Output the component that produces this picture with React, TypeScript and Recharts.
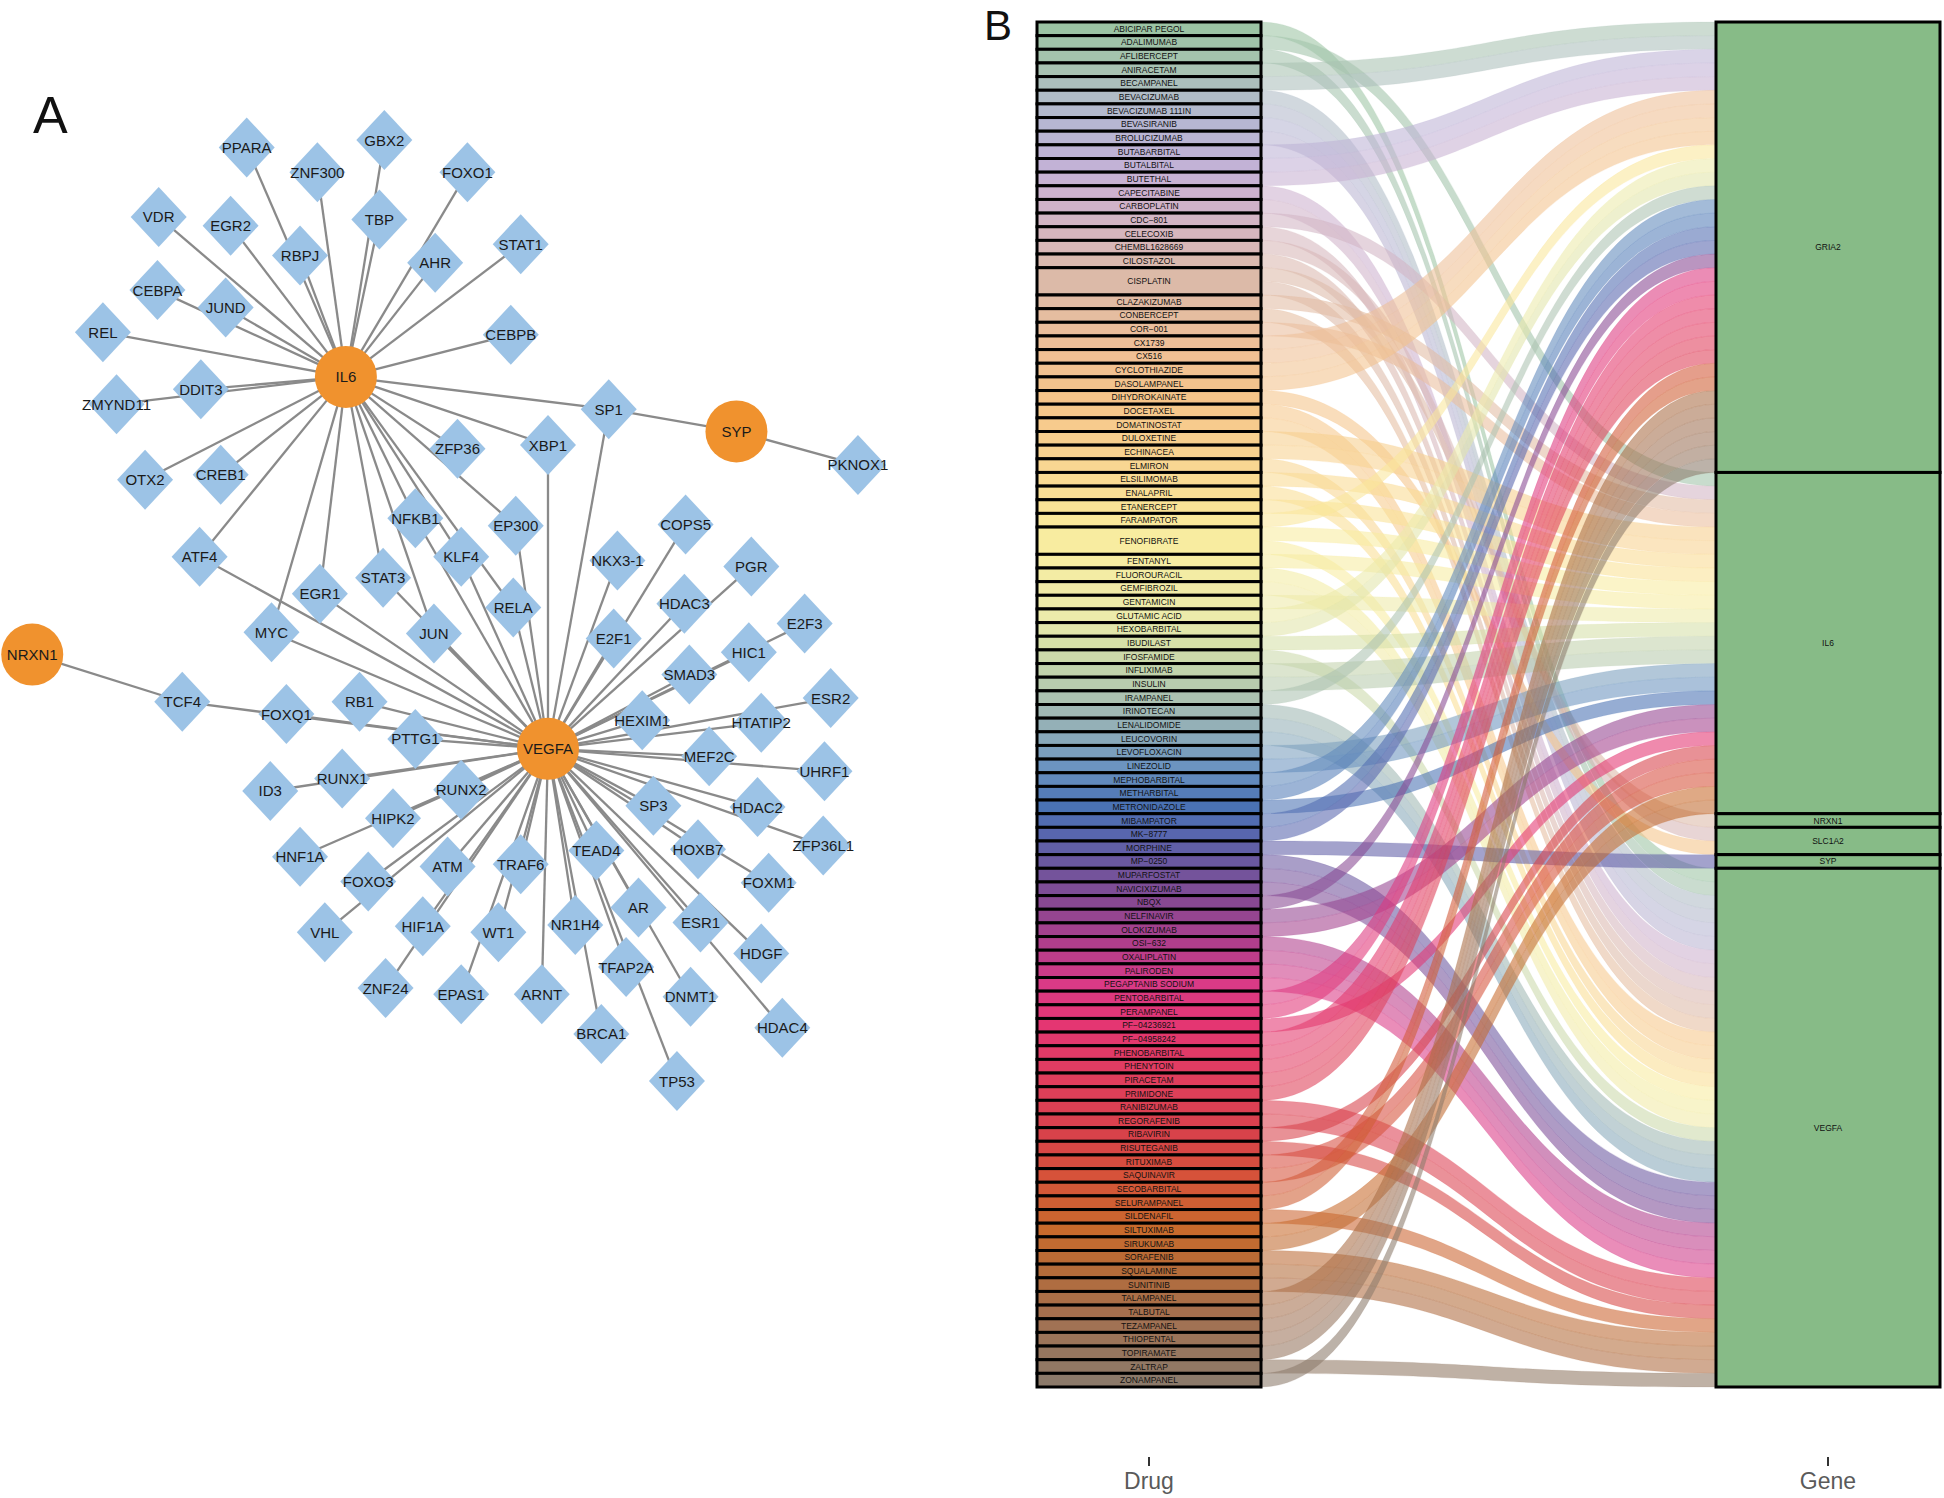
import React from 'react';
import { ScatterChart, Scatter, XAxis, YAxis, Sankey } from 'recharts';

// ---------------- Panel A: network (layout coordinates) ----------------
const hubNodes = [
  { name: 'IL6', x: 279, y: 304 },
  { name: 'VEGFA', x: 442, y: 604 },
  { name: 'SYP', x: 594, y: 348 },
  { name: 'NRXN1', x: 26, y: 528 },
];

const targetNodes = [
  { name: 'PPARA', x: 199, y: 119 }, { name: 'ZNF300', x: 256, y: 139 }, { name: 'GBX2', x: 310, y: 113 },
  { name: 'FOXO1', x: 377, y: 139 }, { name: 'VDR', x: 128, y: 175 }, { name: 'EGR2', x: 186, y: 182 },
  { name: 'TBP', x: 306, y: 177 }, { name: 'RBPJ', x: 242, y: 206 }, { name: 'STAT1', x: 420, y: 197 },
  { name: 'AHR', x: 351, y: 212 }, { name: 'CEBPA', x: 127, y: 234 }, { name: 'JUND', x: 182, y: 248 },
  { name: 'REL', x: 83, y: 268 }, { name: 'CEBPB', x: 412, y: 270 }, { name: 'ZMYND11', x: 94, y: 326 },
  { name: 'DDIT3', x: 162, y: 314 }, { name: 'SP1', x: 491, y: 330 }, { name: 'XBP1', x: 442, y: 359 },
  { name: 'ZFP36', x: 369, y: 362 }, { name: 'PKNOX1', x: 692, y: 375 }, { name: 'OTX2', x: 117, y: 387 },
  { name: 'CREB1', x: 178, y: 383 }, { name: 'NFKB1', x: 335, y: 418 }, { name: 'EP300', x: 416, y: 424 },
  { name: 'COPS5', x: 553, y: 423 }, { name: 'ATF4', x: 161, y: 449 }, { name: 'KLF4', x: 372, y: 449 },
  { name: 'NKX3-1', x: 498, y: 452 }, { name: 'PGR', x: 606, y: 457 }, { name: 'STAT3', x: 309, y: 466 },
  { name: 'EGR1', x: 258, y: 479 }, { name: 'RELA', x: 414, y: 490 }, { name: 'HDAC3', x: 552, y: 487 },
  { name: 'E2F3', x: 649, y: 503 }, { name: 'MYC', x: 219, y: 510 }, { name: 'JUN', x: 350, y: 511 },
  { name: 'E2F1', x: 495, y: 515 }, { name: 'HIC1', x: 604, y: 526 }, { name: 'SMAD3', x: 556, y: 544 },
  { name: 'TCF4', x: 147, y: 566 }, { name: 'FOXQ1', x: 231, y: 576 }, { name: 'RB1', x: 290, y: 566 },
  { name: 'HEXIM1', x: 518, y: 581 }, { name: 'HTATIP2', x: 614, y: 583 }, { name: 'ESR2', x: 670, y: 563 },
  { name: 'PTTG1', x: 335, y: 596 }, { name: 'MEF2C', x: 572, y: 610 }, { name: 'ID3', x: 218, y: 638 },
  { name: 'RUNX1', x: 276, y: 628 }, { name: 'RUNX2', x: 372, y: 637 }, { name: 'UHRF1', x: 665, y: 622 },
  { name: 'SP3', x: 527, y: 650 }, { name: 'HDAC2', x: 611, y: 651 }, { name: 'HIPK2', x: 317, y: 660 },
  { name: 'HNF1A', x: 242, y: 691 }, { name: 'TEAD4', x: 481, y: 686 }, { name: 'HOXB7', x: 563, y: 685 },
  { name: 'ZFP36L1', x: 664, y: 682 }, { name: 'ATM', x: 361, y: 699 }, { name: 'TRAF6', x: 420, y: 697 },
  { name: 'FOXO3', x: 297, y: 711 }, { name: 'FOXM1', x: 620, y: 712 }, { name: 'AR', x: 515, y: 732 },
  { name: 'VHL', x: 262, y: 752 }, { name: 'HIF1A', x: 341, y: 747 }, { name: 'WT1', x: 402, y: 752 },
  { name: 'NR1H4', x: 464, y: 746 }, { name: 'ESR1', x: 565, y: 744 }, { name: 'HDGF', x: 614, y: 769 },
  { name: 'ZNF24', x: 311, y: 797 }, { name: 'EPAS1', x: 372, y: 802 }, { name: 'ARNT', x: 437, y: 802 },
  { name: 'TFAP2A', x: 505, y: 780 }, { name: 'DNMT1', x: 557, y: 804 }, { name: 'HDAC4', x: 631, y: 829 },
  { name: 'BRCA1', x: 485, y: 834 }, { name: 'TP53', x: 546, y: 872 },
];

const il6Partners = ['PPARA', 'ZNF300', 'GBX2', 'FOXO1', 'VDR', 'EGR2', 'TBP', 'RBPJ', 'STAT1', 'AHR', 'CEBPA',
  'JUND', 'REL', 'CEBPB', 'ZMYND11', 'DDIT3', 'SP1', 'XBP1', 'ZFP36', 'OTX2', 'CREB1', 'NFKB1', 'EP300', 'ATF4',
  'KLF4', 'STAT3', 'EGR1', 'RELA', 'MYC', 'JUN'];
const vegfaPartners = ['ATF4', 'MYC', 'EGR1', 'STAT3', 'JUN', 'NFKB1', 'KLF4', 'RELA', 'EP300', 'XBP1', 'SP1',
  'NKX3-1', 'COPS5', 'PGR', 'HDAC3', 'E2F1', 'E2F3', 'HIC1', 'SMAD3', 'TCF4', 'FOXQ1', 'RB1', 'PTTG1', 'HEXIM1',
  'HTATIP2', 'ESR2', 'MEF2C', 'UHRF1', 'ID3', 'RUNX1', 'RUNX2', 'SP3', 'HDAC2', 'ZFP36L1', 'HIPK2', 'HNF1A',
  'TEAD4', 'HOXB7', 'ATM', 'TRAF6', 'FOXO3', 'FOXM1', 'AR', 'VHL', 'HIF1A', 'WT1', 'NR1H4', 'ESR1', 'HDGF',
  'ZNF24', 'EPAS1', 'ARNT', 'TFAP2A', 'DNMT1', 'HDAC4', 'BRCA1', 'TP53'];
const sypPartners = ['SP1', 'PKNOX1'];
const nrxn1Partners = ['TCF4'];

// ---------------- Panel B: drug–gene alluvial ----------------
const drugs = ['ABICIPAR PEGOL', 'ADALIMUMAB', 'AFLIBERCEPT', 'ANIRACETAM', 'BECAMPANEL', 'BEVACIZUMAB',
  'BEVACIZUMAB 111IN', 'BEVASIRANIB', 'BROLUCIZUMAB', 'BUTABARBITAL', 'BUTALBITAL', 'BUTETHAL', 'CAPECITABINE',
  'CARBOPLATIN', 'CDC−801', 'CELECOXIB', 'CHEMBL1628669', 'CILOSTAZOL', 'CISPLATIN', 'CLAZAKIZUMAB', 'CONBERCEPT',
  'COR−001', 'CX1739', 'CX516', 'CYCLOTHIAZIDE', 'DASOLAMPANEL', 'DIHYDROKAINATE', 'DOCETAXEL', 'DOMATINOSTAT',
  'DULOXETINE', 'ECHINACEA', 'ELMIRON', 'ELSILIMOMAB', 'ENALAPRIL', 'ETANERCEPT', 'FARAMPATOR', 'FENOFIBRATE',
  'FENTANYL', 'FLUOROURACIL', 'GEMFIBROZIL', 'GENTAMICIN', 'GLUTAMIC ACID', 'HEXOBARBITAL', 'IBUDILAST',
  'IFOSFAMIDE', 'INFLIXIMAB', 'INSULIN', 'IRAMPANEL', 'IRINOTECAN', 'LENALIDOMIDE', 'LEUCOVORIN', 'LEVOFLOXACIN',
  'LINEZOLID', 'MEPHOBARBITAL', 'METHARBITAL', 'METRONIDAZOLE', 'MIBAMPATOR', 'MK−8777', 'MORPHINE', 'MP−0250',
  'MUPARFOSTAT', 'NAVICIXIZUMAB', 'NBQX', 'NELFINAVIR', 'OLOKIZUMAB', 'OSI−632', 'OXALIPLATIN', 'PALIRODEN',
  'PEGAPTANIB SODIUM', 'PENTOBARBITAL', 'PERAMPANEL', 'PF−04236921', 'PF−04958242', 'PHENOBARBITAL', 'PHENYTOIN',
  'PIRACETAM', 'PRIMIDONE', 'RANIBIZUMAB', 'REGORAFENIB', 'RIBAVIRIN', 'RISUTEGANIB', 'RITUXIMAB', 'SAQUINAVIR',
  'SECOBARBITAL', 'SELURAMPANEL', 'SILDENAFIL', 'SILTUXIMAB', 'SIRUKUMAB', 'SORAFENIB', 'SQUALAMINE', 'SUNITINIB',
  'TALAMPANEL', 'TALBUTAL', 'TEZAMPANEL', 'THIOPENTAL', 'TOPIRAMATE', 'ZALTRAP', 'ZONAMPANEL'];

const drugTargets = ['VEGFA', 'IL6', 'VEGFA', 'GRIA2', 'GRIA2', 'VEGFA',
  'VEGFA', 'VEGFA', 'VEGFA', 'GRIA2', 'GRIA2', 'GRIA2', 'VEGFA',
  'VEGFA', 'IL6', 'VEGFA', 'SLC1A2', 'VEGFA', 'NRXN1|VEGFA', 'IL6', 'VEGFA',
  'IL6', 'GRIA2', 'GRIA2', 'GRIA2', 'GRIA2', 'SLC1A2', 'VEGFA', 'VEGFA',
  'IL6', 'IL6', 'VEGFA', 'IL6', 'VEGFA', 'IL6', 'GRIA2', 'IL6|VEGFA',
  'IL6', 'VEGFA', 'VEGFA', 'IL6', 'GRIA2', 'GRIA2', 'IL6',
  'VEGFA', 'IL6', 'IL6', 'GRIA2', 'VEGFA', 'VEGFA', 'VEGFA', 'IL6',
  'IL6', 'GRIA2', 'GRIA2', 'IL6', 'GRIA2', 'GRIA2', 'SYP', 'VEGFA',
  'VEGFA', 'VEGFA', 'GRIA2', 'IL6', 'IL6', 'VEGFA', 'VEGFA', 'VEGFA',
  'VEGFA', 'GRIA2', 'GRIA2', 'IL6', 'GRIA2', 'GRIA2', 'GRIA2',
  'GRIA2', 'GRIA2', 'VEGFA', 'VEGFA', 'IL6', 'VEGFA', 'IL6', 'IL6',
  'GRIA2', 'GRIA2', 'VEGFA', 'IL6', 'IL6', 'VEGFA', 'VEGFA', 'VEGFA',
  'GRIA2', 'GRIA2', 'GRIA2', 'GRIA2', 'GRIA2', 'VEGFA', 'GRIA2'];

const genes = ['GRIA2', 'IL6', 'NRXN1', 'SLC1A2', 'SYP', 'VEGFA'];

// ---------------- styles ----------------
const FONT = '"Liberation Sans", Arial, Helvetica, sans-serif';
const paletteStops: [number, string][] = [
  [0, '#9cc4a4'], [3, '#a8c2b2'], [5, '#b0bcc6'], [7, '#b6b6d2'], [10, '#c2b2d6'], [12, '#cdb2cf'],
  [15, '#d6b6be'], [18, '#dcbaa8'], [22, '#eebf98'], [26, '#f5c489'], [30, '#f8d290'], [34, '#f9e296'],
  [36, '#f8eca0'], [41, '#ecebab'], [43, '#d6e0a8'], [46, '#b8ccae'], [48, '#a0b8b4'], [50, '#88a8ba'],
  [52, '#6c94c0'], [55, '#4a72b4'], [57, '#5866ae'], [59, '#6a58a0'], [62, '#884892'], [65, '#b03e8c'],
  [68, '#da3a86'], [71, '#e43672'], [75, '#e03e5c'], [79, '#d8424a'], [82, '#d6523a'], [86, '#c86a2c'],
  [89, '#b46c3a'], [92, '#a6704e'], [97, '#8c7a6a'],
];
const hex = (h: string) => [1, 3, 5].map((k) => parseInt(h.slice(k, k + 2), 16));
const colorAt = (i: number) => {
  for (let s = 0; s < paletteStops.length - 1; s++) {
    const [i0, c0] = paletteStops[s];
    const [i1, c1] = paletteStops[s + 1];
    if (i >= i0 && i <= i1) {
      const t = (i - i0) / (i1 - i0);
      const a = hex(c0);
      const b = hex(c1);
      const m = a.map((v, k) => Math.round(v + (b[k] - v) * t));
      return `rgb(${m[0]},${m[1]},${m[2]})`;
    }
  }
  return paletteStops[paletteStops.length - 1][1];
};
const drugColor: Record<string, string> = {};
drugs.forEach((d, i) => { drugColor[d] = colorAt(i); });

// ---------------- derived structures ----------------
const allNetNodes = [...hubNodes, ...targetNodes];
const pos: Record<string, { name: string; x: number; y: number }> = {};
allNetNodes.forEach((n) => { pos[n.name] = n; });
const netEdges: [string, string][] = [
  ...il6Partners.map((p) => ['IL6', p] as [string, string]),
  ...vegfaPartners.map((p) => ['VEGFA', p] as [string, string]),
  ...sypPartners.map((p) => ['SYP', p] as [string, string]),
  ...nrxn1Partners.map((p) => ['NRXN1', p] as [string, string]),
];

const sankeyData = {
  nodes: [...drugs.map((name) => ({ name })), ...genes.map((name) => ({ name }))],
  links: drugs.flatMap((d, i) =>
    drugTargets[i].split('|').map((g) => ({ source: i, target: drugs.length + genes.indexOf(g), value: 1 }))),
};

const SCALE = 1.2398;
const NET_W = 1000;
const NET_H = 1200;

const EmptyShape = () => <g />;

const DiamondShape = (props: any) => {
  const { cx, cy, payload } = props;
  const hw = 28;
  const hh = 30;
  return (
    <g>
      <polygon points={`${cx},${cy - hh} ${cx + hw},${cy} ${cx},${cy + hh} ${cx - hw},${cy}`} fill="#9cc3e6" />
      <text x={cx} y={cy} textAnchor="middle" dominantBaseline="central" fontSize={15}
        fontFamily={FONT} fill="#1a1a1a">{payload.name}</text>
    </g>
  );
};

const HubShape = (props: any) => {
  const { cx, cy, payload } = props;
  return (
    <g>
      <circle cx={cx} cy={cy} r={31} fill="#f0922e" />
      <text x={cx} y={cy} textAnchor="middle" dominantBaseline="central" fontSize={15}
        fontFamily={FONT} fill="#1a1a1a">{payload.name}</text>
    </g>
  );
};

const SankeyNode = (props: any) => {
  const { x, y, width, height, payload } = props;
  const isGene = genes.includes(payload.name);
  const fill = isGene ? '#87bb87' : drugColor[payload.name];
  return (
    <g>
      <rect x={x} y={y} width={width} height={height} fill={fill} stroke="#000" strokeWidth={3} />
      <text x={x + width / 2} y={y + height / 2} textAnchor="middle" dominantBaseline="central"
        fontSize={8.5} fontFamily={FONT} fill="#111">{payload.name}</text>
    </g>
  );
};

const SankeyLink = (props: any) => {
  const { sourceX, sourceY, targetX, targetY, sourceControlX, targetControlX, linkWidth, payload } = props;
  const h = linkWidth / 2;
  const d = `M${sourceX},${sourceY - h} C${sourceControlX},${sourceY - h} ${targetControlX},${targetY - h} ${targetX},${targetY - h}`
    + ` L${targetX},${targetY + h} C${targetControlX},${targetY + h} ${sourceControlX},${sourceY + h} ${sourceX},${sourceY + h} Z`;
  const color = drugColor[payload.source.name] || '#999';
  return <path d={d} fill={color} fillOpacity={0.58} stroke={color} strokeOpacity={0.25} strokeWidth={0.6} />;
};

export default function App() {
  return (
    <div style={{ position: 'absolute', left: 0, top: 0, width: 1944, height: 1498, background: '#fff', overflow: 'hidden' }}>
      <div style={{ position: 'absolute', left: 0, top: 0 }}>
        <ScatterChart width={NET_W} height={NET_H} margin={{ top: 0, right: 0, bottom: 0, left: 0 }}>
          <XAxis type="number" dataKey="x" domain={[0, NET_W / SCALE]} allowDataOverflow hide />
          <YAxis type="number" dataKey="y" domain={[0, NET_H / SCALE]} allowDataOverflow reversed hide />
          {netEdges.map(([a, b], i) => (
            <Scatter key={`e${i}`} data={[pos[a], pos[b]]} line={{ stroke: '#8a8a8a', strokeWidth: 2.3 }}
              lineType="joint" shape={EmptyShape} isAnimationActive={false} />
          ))}
          <Scatter data={targetNodes} shape={DiamondShape} isAnimationActive={false} />
          <Scatter data={hubNodes} shape={HubShape} isAnimationActive={false} />
        </ScatterChart>
      </div>
      <div style={{ position: 'absolute', left: 990, top: 0 }}>
        <Sankey width={954} height={1498} data={sankeyData} nodeWidth={224} nodePadding={0} iterations={0}
          margin={{ top: 22, bottom: 111, left: 47, right: 4 }} node={SankeyNode} link={SankeyLink} />
      </div>
      <svg style={{ position: 'absolute', left: 0, top: 0, pointerEvents: 'none' }} width={1944} height={1498}>
        <text x={33} y={133} fontSize={52} fontFamily={FONT} fill="#111">A</text>
        <text x={984} y={40} fontSize={42} fontFamily={FONT} fill="#111">B</text>
        <line x1={1149} x2={1149} y1={1457} y2={1466} stroke="#333" strokeWidth={2} />
        <line x1={1828} x2={1828} y1={1457} y2={1466} stroke="#333" strokeWidth={2} />
        <text x={1149} y={1489} textAnchor="middle" fontSize={23} fontFamily={FONT} fill="#5a5a5a">Drug</text>
        <text x={1828} y={1489} textAnchor="middle" fontSize={23} fontFamily={FONT} fill="#5a5a5a">Gene</text>
      </svg>
    </div>
  );
}
